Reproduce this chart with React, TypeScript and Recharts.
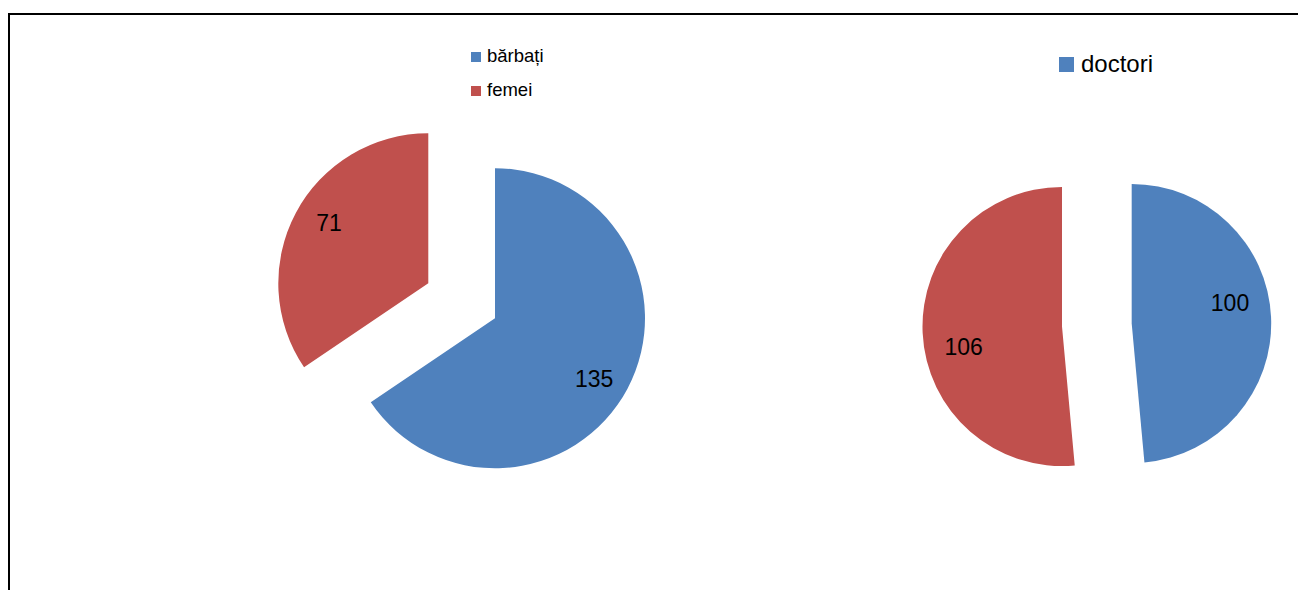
import React from 'react';
import { PieChart, Pie, Cell } from 'recharts';

const genderCategories = ['bărbați', 'femei'];
const genderValues = [135, 71];
const doctorCategories = ['doctori', 'alții'];
const doctorValues = [100, 106];
const doctorLegend = ['doctori'];

const BLUE = '#4F81BD';
const RED = '#C0504D';
const COLORS = [BLUE, RED];
const FONT = '"Liberation Sans", Arial, sans-serif';

const genderData = genderCategories.map((name, i) => ({ name, value: genderValues[i] }));
const doctorData = doctorCategories.map((name, i) => ({ name, value: doctorValues[i] }));

const RAD = Math.PI / 180;

function makeLabel(visibleIndex: number, angleShift: number, frac: number) {
  return (props: any) => {
    if (props.index !== visibleIndex) return <g />;
    const a = (props.midAngle + angleShift) * RAD;
    const r = props.outerRadius * frac;
    const x = props.cx + r * Math.cos(a);
    const y = props.cy - r * Math.sin(a);
    return (
      <text x={x} y={y} textAnchor="middle" dominantBaseline="central" fontSize={23} fontFamily={FONT} fill="#000">
        {props.value}
      </text>
    );
  };
}

function slicePie(
  data: { name: string; value: number }[],
  visibleIndex: number,
  cx: number,
  cy: number,
  radius: number,
  angleShift: number,
  frac: number,
  key: string
) {
  return (
    <Pie
      key={key}
      data={data}
      dataKey="value"
      nameKey="name"
      cx={cx}
      cy={cy}
      outerRadius={radius}
      innerRadius={0}
      startAngle={90}
      endAngle={-270}
      isAnimationActive={false}
      stroke="none"
      labelLine={false}
      label={makeLabel(visibleIndex, angleShift, frac)}
    >
      {data.map((_, i) => (
        <Cell key={i} fill={i === visibleIndex ? COLORS[i] : 'transparent'} stroke="none" />
      ))}
    </Pie>
  );
}

export default function App() {
  return (
    <div style={{ position: 'absolute', left: 0, top: 0, width: 1298, height: 590, background: '#fff', overflow: 'hidden' }}>
      <PieChart width={1298} height={590} margin={{ top: 0, right: 0, bottom: 0, left: 0 }}>
        {slicePie(genderData, 0, 495, 318.3, 150, -3.5, 0.775, 'g0')}
        {slicePie(genderData, 1, 428.3, 283.3, 150, -3.5, 0.775, 'g1')}
        {slicePie(doctorData, 0, 1131.7, 323.5, 139.5, 9.2, 0.72, 'd0')}
        {slicePie(doctorData, 1, 1062, 326.5, 139.5, 9.2, 0.72, 'd1')}
      </PieChart>
      <svg width={1298} height={590} style={{ position: 'absolute', left: 0, top: 0, pointerEvents: 'none' }}>
        <polyline points="9,590 9,14 1298,14" fill="none" stroke="#000" strokeWidth={2} />
        {genderCategories.map((name, i) => (
          <g key={name}>
            <rect x={471} y={52 + i * 34} width={10} height={10} fill={COLORS[i]} />
            <text x={487} y={62 + i * 34} fontSize={18.5} fontFamily={FONT} fill="#000">
              {name}
            </text>
          </g>
        ))}
        {doctorLegend.map((name, i) => (
          <g key={name}>
            <rect x={1059} y={57} width={15} height={15} fill={COLORS[i]} />
            <text x={1081} y={72} fontSize={24} fontFamily={FONT} fill="#000">
              {name}
            </text>
          </g>
        ))}
      </svg>
    </div>
  );
}
